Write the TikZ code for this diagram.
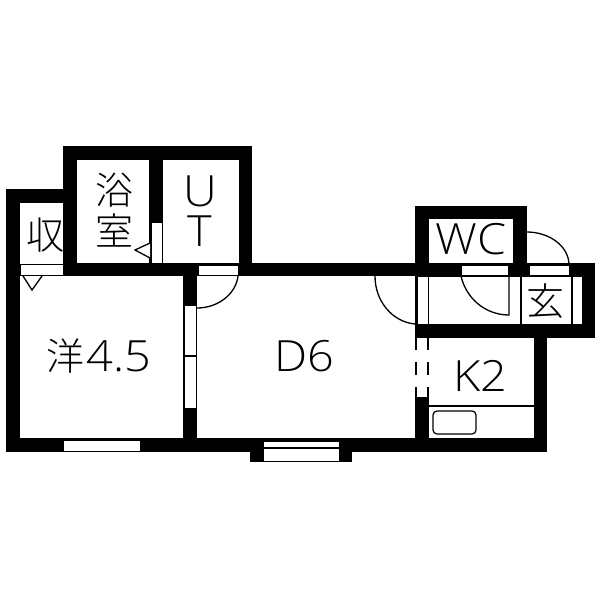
\documentclass[tikz,border=0pt]{standalone}
\usepackage{fontspec}
\setmainfont{Open Sans Light}[FakeStretch=1.09]
\newfontfamily\cjk{Noto Sans CJK JP Light}
\usetikzlibrary{positioning}
\tikzset{
  wall/.style = { fill = black, draw = none },
  opening/.style = { fill = white, draw = black, line width = 1pt },
  fine/.style = { draw = black, line width = 1.2pt },
  swing/.style = { draw = black, line width = 1.3pt },
  roomname/.style = { inner sep = 0pt, font = \fontsize{43}{43}\selectfont },
  roomkanji/.style = { inner sep = 0pt, font = \fontsize{38}{38}\selectfont\cjk }
}
\begin{document}
\begin{tikzpicture}[x = 1pt, y = -1pt]
  \useasboundingbox (0,0) rectangle (600,600);
  % walls
  \fill[wall] (6,189) rectangle (20,452);
  \fill[wall] (6,189) rectangle (77,203);
  \fill[wall] (63,146) rectangle (77,276);
  \fill[wall] (63,146) rectangle (252,160);
  \fill[wall] (149,146) rectangle (163,263);
  \fill[wall] (239,146) rectangle (252,276);
  \fill[wall] (63,263) rectangle (595,276);
  \fill[wall] (415,206) rectangle (527,219);
  \fill[wall] (415,206) rectangle (429,276);
  \fill[wall] (513,206) rectangle (527,276);
  \fill[wall] (582,263) rectangle (595,338);
  \fill[wall] (415,324) rectangle (595,338);
  \fill[wall] (534,324) rectangle (547,452);
  \fill[wall] (183,263) rectangle (197,452);
  \fill[wall] (415,276) rectangle (429,452);
  \fill[wall] (6,438) rectangle (547,452);
  \fill[wall] (250,438) rectangle (352,462);
  % openings in the walls
  \draw[opening] (20,264) rectangle (63,275);
  \draw[opening] (151,222) rectangle (162,263);
  \draw[opening] (198,265) rectangle (238,275);
  \draw[opening] (184,305) rectangle (196,408);
  \draw[fine] (184,356) -- (196,356);
  \draw[opening] (461,265) rectangle (508,275);
  \draw[opening] (529,265) rectangle (569,275);
  \fill[white] (429,276) rectangle (582,324);
  \draw[fine] (429,276) -- (582,276);
  \draw[opening] (417,276) rectangle (428,324);
  \draw[fine] (521,276) -- (521,324);
  \draw[fine] (572,276) -- (572,324);
  \draw[opening] (63,440) rectangle (140,451);
  \draw[opening] (263,441) rectangle (339,461);
  \draw[fine] (263,448) -- (339,448);
  % sliding door to the kitchen
  \fill[white] (415,338) rectangle (429,398);
  \draw[fine] (416,338) -- (416,350) (416,362) -- (416,375) (416,387) -- (416,398);
  \draw[fine] (428,338) -- (428,350) (428,362) -- (428,375) (428,387) -- (428,398);
  \draw[fine] (415,398) -- (429,398);
  % door swings
  \draw[swing] (238,276) .. controls (236,294) and (218,308) .. (197,308);
  \draw[swing] (375,276) .. controls (375,302) and (393,322) .. (415,324);
  \draw[swing] (461,276) .. controls (466,298) and (485,315) .. (509,315) -- (509,276);
  \draw[swing] (527,232) .. controls (549,232) and (569,246) .. (569,265);
  % small marks
  \draw[swing, fill = white] (150,243) -- (135,250) -- (150,258);
  \draw[swing, fill = white] (23,276) -- (32,290) -- (42,276);
  % kitchen
  \draw[fine] (429,406) -- (534,406);
  \draw[fine, rounded corners = 4pt] (433,411) rectangle (476,434);
  % room names
  \node[roomkanji] (storage) at (45,235) {収};
  \node[roomkanji] (bathtop) at (114,190) {浴};
  \node[roomkanji] (bathlow) at (114,230) {室};
  \node[roomname] (utu) at (200,191) {U};
  \node[roomname] (utt) at (200,231) {T};
  \node[roomkanji] (western) at (65,356) {洋};
  \node[roomname, right = 2pt of western] (westernsize) {4.5};
  \node[roomname] (dining) at (304,356) {D6};
  \node[roomname] (kitchen) at (480,376) {K2};
  \node[roomname] (toilet) at (471,239) {WC};
  \node[roomkanji] (entry) at (545,301) {玄};
\end{tikzpicture}
\end{document}
